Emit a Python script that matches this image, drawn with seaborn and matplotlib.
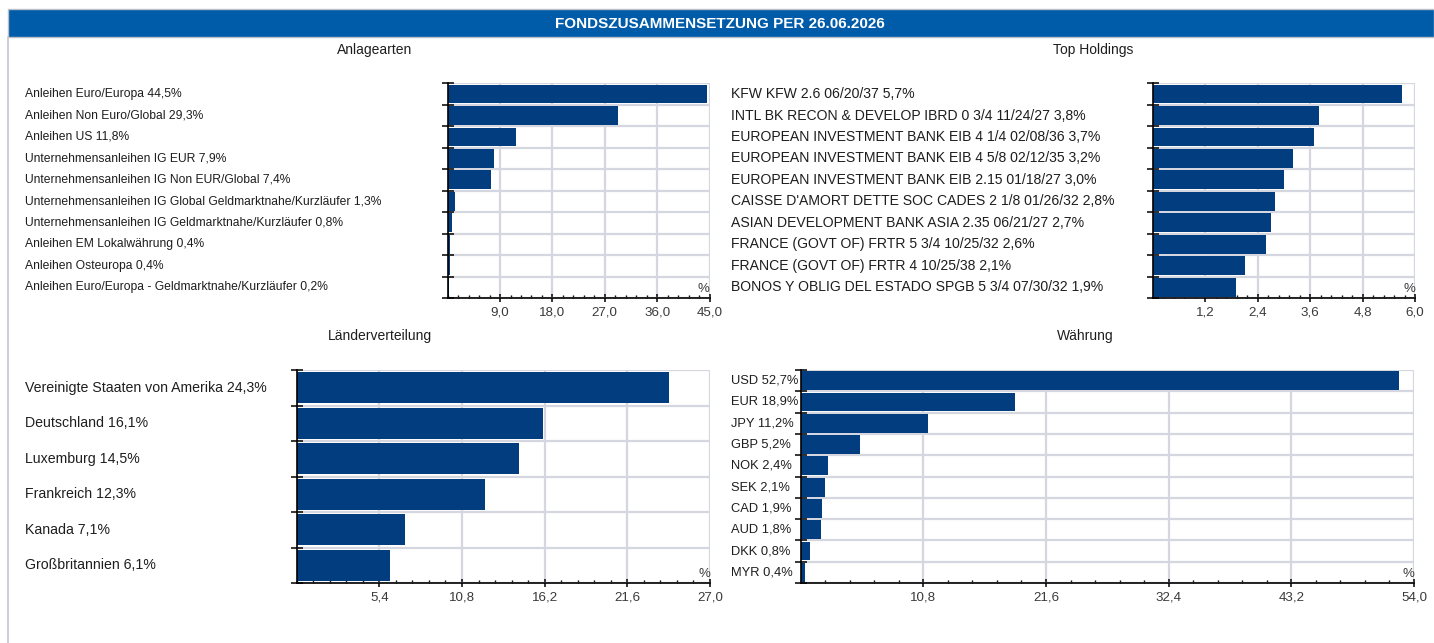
import numpy as np
import pandas as pd
import matplotlib
matplotlib.use("Agg")
import matplotlib.pyplot as plt
import seaborn as sns
from matplotlib.ticker import FixedLocator, MultipleLocator, NullFormatter
from matplotlib.transforms import blended_transform_factory
from matplotlib.patches import Rectangle
from matplotlib.lines import Line2D

# ---- data -------------------------------------------------------------
asset_names = [
    "Anleihen Euro/Europa",
    "Anleihen Non Euro/Global",
    "Anleihen US",
    "Unternehmensanleihen IG EUR",
    "Unternehmensanleihen IG Non EUR/Global",
    "Unternehmensanleihen IG Global Geldmarktnahe/Kurzläufer",
    "Unternehmensanleihen IG Geldmarktnahe/Kurzläufer",
    "Anleihen EM Lokalwährung",
    "Anleihen Osteuropa",
    "Anleihen Euro/Europa - Geldmarktnahe/Kurzläufer",
]
asset_values = [44.5, 29.3, 11.8, 7.9, 7.4, 1.3, 0.8, 0.4, 0.4, 0.2]
asset_ticks = [9.0, 18.0, 27.0, 36.0, 45.0]

holding_names = [
    "KFW KFW 2.6 06/20/37",
    "INTL BK RECON & DEVELOP IBRD 0 3/4 11/24/27",
    "EUROPEAN INVESTMENT BANK EIB 4 1/4 02/08/36",
    "EUROPEAN INVESTMENT BANK EIB 4 5/8 02/12/35",
    "EUROPEAN INVESTMENT BANK EIB 2.15 01/18/27",
    "CAISSE D'AMORT DETTE SOC CADES 2 1/8 01/26/32",
    "ASIAN DEVELOPMENT BANK ASIA 2.35 06/21/27",
    "FRANCE (GOVT OF) FRTR 5 3/4 10/25/32",
    "FRANCE (GOVT OF) FRTR 4 10/25/38",
    "BONOS Y OBLIG DEL ESTADO SPGB 5 3/4 07/30/32",
]
holding_values = [5.7, 3.8, 3.7, 3.2, 3.0, 2.8, 2.7, 2.6, 2.1, 1.9]
holding_ticks = [1.2, 2.4, 3.6, 4.8, 6.0]

country_names = [
    "Vereinigte Staaten von Amerika",
    "Deutschland",
    "Luxemburg",
    "Frankreich",
    "Kanada",
    "Großbritannien",
]
country_values = [24.3, 16.1, 14.5, 12.3, 7.1, 6.1]
country_ticks = [5.4, 10.8, 16.2, 21.6, 27.0]

currency_names = ["USD", "EUR", "JPY", "GBP", "NOK", "SEK", "CAD", "AUD", "DKK", "MYR"]
currency_values = [52.7, 18.9, 11.2, 5.2, 2.4, 2.1, 1.9, 1.8, 0.8, 0.4]
currency_ticks = [10.8, 21.6, 32.4, 43.2, 54.0]

header_text = "FONDSZUSAMMENSETZUNG PER 26.06.2026"

# ---- style ------------------------------------------------------------
sns.set_style("white")
plt.rcParams["font.family"] = ["Liberation Sans", "DejaVu Sans"]

BAR = "#023d80"
HEADER = "#005ca9"
GRID = "#d4d7df"
TEXT = "#1e1e1e"
TICKTXT = "#3a3a3a"

W, H = 1434, 643
fig = plt.figure(figsize=(W / 100, H / 100), dpi=100)


def fmt(v):
    return f"{v:.1f}".replace(".", ",")


def px_rect(left, top, right, bottom):
    return [left / W, 1 - bottom / H, (right - left) / W, (bottom - top) / H]


def panel(rect, names, values, ticks, label_x, label_size, title, title_x, title_y):
    ax = fig.add_axes(px_rect(*rect))
    n = len(names)
    df = pd.DataFrame({"name": names, "value": values})
    sns.barplot(data=df, x="value", y="name", orient="h", color=BAR,
                saturation=1, width=0.88, linewidth=0, ax=ax)
    xmax = ticks[-1]
    ax.set_xlim(0, xmax)
    ax.set_ylim(n - 0.5, -0.5)
    ax.set_xlabel("")
    ax.set_ylabel("")

    # row boundaries carry the y ticks and horizontal grid
    ax.yaxis.set_major_locator(FixedLocator(np.arange(n + 1) - 0.5))
    ax.yaxis.set_major_formatter(NullFormatter())
    ax.xaxis.set_major_locator(FixedLocator(ticks))
    ax.set_xticklabels([fmt(t) for t in ticks])
    ax.xaxis.set_minor_locator(MultipleLocator(xmax / 25))

    ax.set_axisbelow(True)
    ax.grid(True, which="major", color=GRID, linewidth=1.6)
    for s in ("top", "right"):
        ax.spines[s].set_visible(False)
    for s in ("left", "bottom"):
        ax.spines[s].set_color("black")
        ax.spines[s].set_linewidth(1.2)

    ax.tick_params(axis="y", which="major", direction="inout", length=9,
                   width=1.1, color="black", left=True)
    ax.tick_params(axis="x", which="major", direction="inout", length=6,
                   width=1.1, color="black", bottom=True, pad=3,
                   labelsize=9.6, labelcolor=TICKTXT)
    ax.tick_params(axis="x", which="minor", direction="in", length=2.5,
                   width=1.0, color="black", bottom=True)

    ax.text(1.0, 0.012, "%", transform=ax.transAxes, ha="right", va="bottom",
            fontsize=9.5, color=TICKTXT)

    tr = blended_transform_factory(fig.transFigure, ax.transData)
    for i, (nm, v) in enumerate(zip(names, values)):
        ax.text(label_x / W, i, f"{nm} {fmt(v)}%", transform=tr,
                ha="left", va="center", fontsize=label_size, color=TEXT,
                clip_on=False)

    fig.text(title_x / W, 1 - title_y / H, title, ha="center", va="center",
             fontsize=10, color=TEXT)
    return ax


# ---- header bar and frame ----------------------------------------------
fig.add_artist(Rectangle((7.5 / W, 1 - 37 / H), 1 - 7.5 / W, 28.5 / H,
                         transform=fig.transFigure, facecolor=HEADER,
                         edgecolor="#b9bec8", linewidth=1.0))
fig.add_artist(Line2D([7.5 / W, 7.5 / W], [0, 1 - 37 / H],
                      transform=fig.transFigure, color="#c4c7cc", linewidth=1.2))
fig.text(720 / W, 1 - 23.5 / H, header_text, ha="center", va="center",
         fontsize=11, fontweight="bold", color="white")

# ---- panels -----------------------------------------------------------
panel((447.7, 83.3, 709.5, 298), asset_names, asset_values, asset_ticks,
      25, 8.7, "Anlagearten", 375, 50)
panel((1152.7, 83.3, 1415, 298), holding_names, holding_values, holding_ticks,
      731, 10.1, "Top Holdings", 1093, 50)
panel((296.7, 370, 710, 583), country_names, country_values, country_ticks,
      25, 10.2, "Länderverteilung", 380, 336)
panel((800.7, 370, 1414, 583), currency_names, currency_values, currency_ticks,
      731, 9.3, "Währung", 1085, 336)

fig.savefig("out.png", dpi=100)
